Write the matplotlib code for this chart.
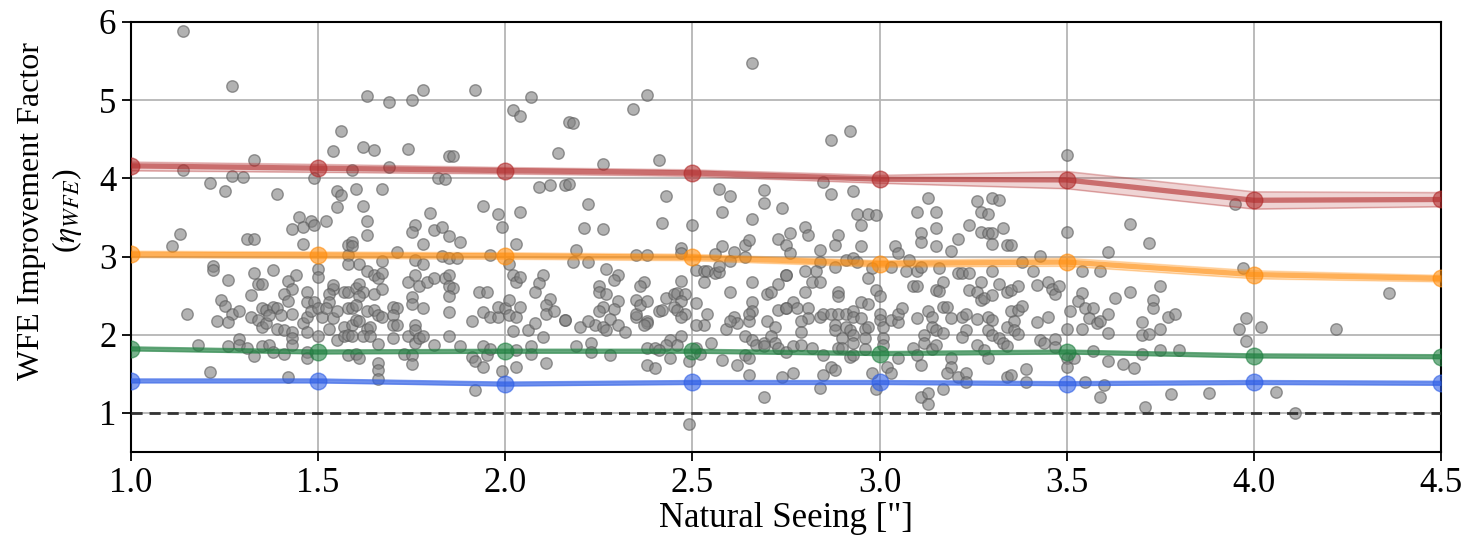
import numpy as np
import matplotlib
matplotlib.use("Agg")
import matplotlib.pyplot as plt

plt.rcParams['font.family'] = ['Liberation Serif', 'DejaVu Serif']
plt.rcParams['mathtext.fontset'] = 'stix'

# individual nights: (natural seeing ["], improvement factor)
samples = [
    (1.14, 5.88), (1.27, 5.18), (1.56, 4.61), (1.54, 4.35), (1.33, 4.24), (1.14, 4.11),
    (1.27, 4.03), (1.30, 4.02), (1.49, 4.00), (1.21, 3.94), (1.25, 3.84), (1.39, 3.80),
    (1.55, 3.84), (1.56, 3.79), (1.55, 3.63), (1.45, 3.50), (1.48, 3.45), (1.52, 3.46),
    (1.46, 3.38), (1.43, 3.35), (1.49, 3.40), (1.13, 3.29), (1.11, 3.13), (1.31, 3.22),
    (1.33, 3.23), (1.46, 3.16), (1.58, 3.15), (1.58, 3.02), (1.22, 2.88), (1.22, 2.83),
    (1.26, 2.70), (1.33, 2.79), (1.38, 2.83), (1.42, 2.69), (1.44, 2.76), (1.50, 2.84),
    (1.50, 2.74), (1.34, 2.65), (1.35, 2.65), (1.43, 2.59), (1.32, 2.51), (1.41, 2.52),
    (1.42, 2.43), (1.47, 2.55), (1.47, 2.42), (1.49, 2.42), (1.54, 2.59), (1.54, 2.64),
    (1.53, 2.52), (1.53, 2.42), (1.57, 2.55), (1.24, 2.45), (1.25, 2.37), (1.27, 2.27),
    (1.29, 2.30), (1.15, 2.26), (1.23, 2.17), (1.26, 2.16), (1.32, 2.23), (1.34, 2.19),
    (1.35, 2.34), (1.36, 2.32), (1.38, 2.36), (1.39, 2.34), (1.35, 2.10), (1.36, 2.15),
    (1.37, 2.25), (1.39, 2.08), (1.40, 2.25), (1.41, 2.06), (1.43, 2.04), (1.43, 2.27),
    (1.43, 1.96), (1.46, 2.15), (1.47, 2.23), (1.47, 2.04), (1.48, 2.30), (1.50, 2.34),
    (1.51, 2.23), (1.52, 2.34), (1.54, 2.21), (1.53, 2.08), (1.55, 2.30), (1.55, 1.93),
    (1.57, 2.10), (1.58, 2.34), (1.57, 1.98), (1.50, 1.98), (1.29, 1.95), (1.18, 1.87),
    (1.26, 1.85), (1.29, 1.87), (1.31, 1.83), (1.33, 1.73), (1.35, 1.85), (1.37, 1.87),
    (1.38, 1.78), (1.41, 1.75), (1.43, 1.87), (1.47, 1.78), (1.47, 1.70), (1.58, 1.74),
    (1.21, 1.53), (1.42, 1.46),
    (1.63, 5.05), (1.69, 4.98), (1.75, 5.00), (1.78, 5.13), (1.92, 5.13), (2.07, 5.04),
    (2.02, 4.87), (2.04, 4.80), (2.17, 4.72), (1.62, 4.40), (1.65, 4.36), (1.74, 4.38),
    (1.85, 4.28), (1.86, 4.29), (2.14, 4.33), (1.59, 4.11), (1.69, 4.14), (1.82, 4.01),
    (1.84, 3.99), (1.60, 3.86), (1.67, 3.87), (2.09, 3.89), (2.12, 3.91), (2.16, 3.92),
    (1.62, 3.65), (1.94, 3.65), (1.98, 3.54), (1.99, 3.38), (2.04, 3.57), (1.80, 3.56),
    (1.63, 3.46), (1.76, 3.40), (1.75, 3.31), (1.81, 3.34), (1.83, 3.38), (1.85, 3.26),
    (1.88, 3.19), (1.78, 3.16), (1.63, 3.28), (1.59, 3.19), (1.59, 3.13), (2.03, 3.16),
    (1.71, 3.06), (1.67, 2.94), (1.61, 2.90), (1.58, 2.90), (1.76, 2.96), (1.78, 2.91),
    (1.83, 3.01), (1.85, 2.98), (1.87, 2.98), (1.96, 3.02), (2.01, 2.91), (1.63, 2.81),
    (1.65, 2.76), (1.66, 2.72), (1.67, 2.79), (1.74, 2.68), (1.76, 2.76), (1.77, 2.62),
    (1.79, 2.68), (1.81, 2.72), (1.84, 2.72), (1.85, 2.76), (1.85, 2.62), (1.86, 2.60),
    (1.85, 2.49), (2.02, 2.77), (2.03, 2.68), (2.04, 2.74), (1.93, 2.55), (1.95, 2.55),
    (2.10, 2.76), (2.09, 2.66), (2.08, 2.55), (2.12, 2.46), (2.11, 2.38), (2.11, 2.27),
    (2.13, 2.30), (2.16, 2.19), (1.58, 2.55), (1.60, 2.60), (1.61, 2.65), (1.62, 2.55),
    (1.61, 2.49), (1.65, 2.52), (1.67, 2.59), (1.59, 2.34), (1.60, 2.38), (1.63, 2.30),
    (1.65, 2.32), (1.66, 2.25), (1.67, 2.23), (1.70, 2.36), (1.71, 2.34), (1.70, 2.25),
    (1.59, 2.13), (1.60, 2.19), (1.61, 2.17), (1.63, 2.08), (1.64, 2.10), (1.58, 2.00),
    (1.59, 1.98), (1.62, 1.98), (1.64, 1.98), (1.70, 2.13), (1.71, 2.13), (1.70, 1.96),
    (1.75, 2.48), (1.75, 2.39), (1.78, 2.34), (1.85, 2.29), (1.74, 1.98), (1.76, 2.13),
    (1.76, 2.06), (1.76, 1.89), (1.77, 1.96), (1.78, 1.98), (1.85, 1.99), (1.81, 1.87),
    (1.91, 2.18), (1.94, 2.29), (1.96, 2.23), (1.98, 2.23), (1.98, 2.36), (2.00, 2.34),
    (2.01, 2.45), (2.01, 2.25), (2.03, 2.23), (2.04, 2.35), (2.02, 2.05), (2.06, 2.06),
    (2.08, 2.15), (2.10, 1.97), (1.66, 1.88), (1.66, 1.64), (1.66, 1.55), (1.66, 1.44),
    (1.60, 1.76), (1.61, 1.70), (1.73, 1.76), (1.75, 1.74), (1.75, 1.62), (1.88, 1.85),
    (1.91, 1.72), (1.92, 1.66), (1.94, 1.59), (1.94, 1.85), (1.95, 1.74), (1.96, 1.82),
    (1.99, 1.54), (2.03, 1.59), (1.92, 1.29), (2.07, 1.75), (2.07, 1.85), (2.11, 1.64),
    (2.03, 1.81),
    (2.66, 5.47), (2.38, 5.07), (2.34, 4.89), (2.18, 4.71), (2.26, 4.19), (2.41, 4.23),
    (2.17, 3.93), (2.57, 3.87), (2.60, 3.77), (2.69, 3.85), (2.69, 3.69), (2.58, 3.57),
    (2.66, 3.48), (2.74, 3.62), (2.43, 3.77), (2.22, 3.67), (2.21, 3.37), (2.26, 3.35),
    (2.42, 3.43), (2.50, 3.40), (2.19, 3.08), (2.18, 2.93), (2.22, 2.93), (2.35, 3.02),
    (2.38, 3.02), (2.47, 3.11), (2.47, 3.04), (2.58, 3.13), (2.61, 3.06), (2.56, 3.03),
    (2.60, 2.94), (2.64, 3.00), (2.64, 3.15), (2.65, 3.21), (2.73, 3.23), (2.75, 3.15),
    (2.51, 2.83), (2.53, 2.81), (2.54, 2.81), (2.56, 2.79), (2.57, 2.80), (2.57, 2.88),
    (2.53, 2.68), (2.27, 2.84), (2.30, 2.76), (2.29, 2.70), (2.25, 2.62), (2.25, 2.55),
    (2.27, 2.52), (2.37, 2.68), (2.36, 2.62), (2.47, 2.69), (2.30, 2.43), (2.29, 2.33),
    (2.26, 2.35), (2.25, 2.30), (2.28, 2.20), (2.24, 2.13), (2.26, 2.10), (2.27, 2.06),
    (2.20, 2.10), (2.22, 2.17), (2.16, 2.19), (2.30, 2.13), (2.32, 2.03), (2.35, 2.45),
    (2.35, 2.23), (2.35, 2.26), (2.36, 2.38), (2.38, 2.43), (2.38, 2.18), (2.38, 2.15),
    (2.37, 2.12), (2.41, 2.30), (2.42, 2.32), (2.43, 2.47), (2.45, 2.52), (2.46, 2.53),
    (2.48, 2.52), (2.47, 2.43), (2.45, 2.35), (2.46, 2.32), (2.48, 2.27), (2.47, 2.23),
    (2.47, 1.99), (2.44, 1.93), (2.46, 1.87), (2.43, 1.87), (2.44, 1.70), (2.51, 2.40),
    (2.54, 2.27), (2.53, 2.13), (2.51, 2.13), (2.55, 1.89), (2.60, 2.55), (2.61, 2.23),
    (2.59, 2.08), (2.62, 2.15), (2.60, 2.18), (2.66, 2.67), (2.66, 2.42), (2.66, 2.30),
    (2.65, 2.18), (2.65, 2.27), (2.70, 2.52), (2.71, 2.55), (2.73, 2.65), (2.75, 2.77),
    (2.73, 2.32), (2.75, 2.34), (2.70, 2.17), (2.72, 2.10), (2.64, 1.98), (2.66, 1.93),
    (2.67, 1.87), (2.69, 1.89), (2.69, 1.85), (2.71, 1.98), (2.72, 1.89), (2.73, 1.83),
    (2.75, 1.78), (2.64, 1.74), (2.65, 1.70), (2.62, 1.61), (2.65, 1.49), (2.69, 1.21),
    (2.74, 1.46), (2.19, 1.85), (2.23, 1.89), (2.23, 1.78), (2.28, 1.74), (2.38, 1.83),
    (2.40, 1.83), (2.41, 1.81), (2.38, 1.61), (2.40, 1.58), (2.49, 1.66), (2.58, 1.68),
    (2.49, 0.86), (2.51, 1.83), (2.52, 1.76),
    (2.87, 4.49), (2.92, 4.61), (2.85, 3.95), (2.87, 3.80), (2.93, 3.84), (2.76, 3.30),
    (2.76, 3.04), (2.94, 3.55), (2.97, 3.55), (2.99, 3.53), (2.95, 3.41), (2.80, 3.38),
    (2.81, 3.28), (2.89, 3.28), (2.88, 3.15), (2.95, 3.13), (2.84, 3.08), (2.84, 2.93),
    (2.83, 2.82), (2.80, 2.81), (2.75, 2.76), (2.88, 2.87), (2.91, 2.96), (2.93, 2.98),
    (2.94, 2.93), (2.98, 2.85), (2.97, 2.72), (2.99, 2.57), (3.00, 2.49), (2.82, 2.67),
    (2.84, 2.67), (2.80, 2.55), (2.89, 2.55), (2.89, 2.49), (2.77, 2.42), (2.75, 2.34),
    (2.78, 2.34), (2.81, 2.34), (2.81, 2.21), (2.79, 2.17), (2.84, 2.23), (2.85, 2.27),
    (2.87, 2.27), (2.89, 2.27), (2.88, 2.13), (2.88, 2.06), (2.91, 2.27), (2.93, 2.30),
    (2.93, 2.23), (2.95, 2.21), (2.91, 2.10), (2.92, 2.06), (2.93, 2.00), (2.96, 2.08),
    (2.97, 2.10), (2.95, 2.42), (2.97, 2.39), (2.79, 2.04), (2.90, 1.96), (2.93, 1.89),
    (2.96, 1.96), (3.01, 1.96), (3.00, 2.27), (3.00, 2.19), (3.01, 2.10), (3.03, 2.19),
    (3.05, 2.16), (3.05, 2.27), (3.06, 2.34), (2.77, 1.85), (2.79, 1.87), (2.82, 1.83),
    (2.85, 1.74), (2.89, 1.83), (2.90, 1.83), (2.92, 1.72), (2.93, 1.74), (2.96, 1.82),
    (3.01, 1.87), (2.77, 1.51), (2.85, 1.48), (2.87, 1.59), (2.88, 1.55), (2.84, 1.32),
    (2.98, 1.51), (2.99, 1.31), (3.02, 1.59), (3.03, 1.51), (3.05, 1.70), (3.13, 3.75),
    (3.10, 3.57), (3.15, 3.57), (3.26, 3.71), (3.27, 3.57), (3.29, 3.54), (3.30, 3.75),
    (3.32, 3.72), (3.24, 3.40), (3.27, 3.32), (3.29, 3.30), (3.30, 3.30), (3.33, 3.36),
    (3.30, 3.16), (3.34, 3.15), (3.11, 3.30), (3.11, 3.19), (3.15, 3.36), (3.15, 3.14),
    (3.21, 3.23), (3.19, 3.07), (3.08, 2.96), (3.04, 3.13), (3.05, 3.04), (3.03, 2.87),
    (3.07, 2.81), (3.10, 2.82), (3.11, 2.87), (3.16, 2.85), (3.17, 2.68), (3.21, 2.79),
    (3.22, 2.79), (3.24, 2.79), (3.27, 2.68), (3.30, 2.82), (3.32, 2.65), (3.09, 2.63),
    (3.10, 2.63), (3.15, 2.57), (3.16, 2.56), (3.17, 2.35), (3.18, 2.35), (3.24, 2.57),
    (3.26, 2.55), (3.27, 2.45), (3.28, 2.47), (3.30, 2.51), (3.34, 2.55), (3.10, 2.21),
    (3.13, 2.30), (3.14, 2.23), (3.14, 2.10), (3.15, 2.06), (3.17, 2.02), (3.19, 2.21),
    (3.22, 2.23), (3.23, 2.27), (3.23, 2.06), (3.26, 2.20), (3.29, 2.23), (3.30, 2.19),
    (3.29, 2.06), (3.30, 2.00), (3.32, 1.96), (3.34, 2.10), (3.33, 1.89), (3.12, 2.00),
    (3.12, 1.89), (3.22, 1.97), (3.09, 1.83), (3.10, 1.74), (3.11, 1.61), (3.14, 1.82),
    (3.15, 1.87), (3.19, 1.70), (3.19, 1.59), (3.18, 1.51), (3.21, 1.46), (3.23, 1.51),
    (3.23, 1.40), (3.26, 1.87), (3.28, 1.81), (3.29, 1.70), (3.34, 1.46), (3.17, 1.31),
    (3.11, 1.21), (3.13, 1.26), (3.13, 1.11),
    (3.50, 4.30), (3.50, 3.32), (3.67, 3.42), (3.72, 3.17), (3.61, 3.06), (3.35, 3.15),
    (3.38, 2.93), (3.43, 3.01), (3.41, 2.82), (3.54, 2.81), (3.59, 2.82), (3.35, 2.57),
    (3.37, 2.63), (3.42, 2.64), (3.45, 2.67), (3.46, 2.59), (3.47, 2.52), (3.48, 2.62),
    (3.54, 2.53), (3.53, 2.43), (3.67, 2.55), (3.75, 2.63), (3.73, 2.45), (3.73, 2.34),
    (3.63, 2.47), (3.35, 2.30), (3.37, 2.32), (3.38, 2.37), (3.36, 2.17), (3.36, 2.06),
    (3.37, 2.01), (3.42, 2.16), (3.45, 2.23), (3.51, 2.30), (3.55, 2.34), (3.57, 2.34),
    (3.56, 2.21), (3.58, 2.15), (3.59, 2.18), (3.61, 2.27), (3.61, 2.02), (3.50, 2.07),
    (3.54, 2.07), (3.70, 2.16), (3.70, 2.00), (3.72, 2.01), (3.75, 2.07), (3.77, 2.23),
    (3.79, 2.26), (3.34, 1.85), (3.43, 1.93), (3.44, 1.90), (3.47, 1.95), (3.47, 1.84),
    (3.50, 1.70), (3.50, 1.59), (3.52, 1.70), (3.57, 1.79), (3.61, 1.66), (3.65, 1.62),
    (3.68, 1.58), (3.70, 1.75), (3.75, 1.81), (3.80, 1.81), (3.35, 1.49), (3.39, 1.56),
    (3.39, 1.40), (3.55, 1.39), (3.60, 1.36), (3.59, 1.20), (3.71, 1.08), (3.78, 1.24),
    (3.88, 1.25),
    (3.95, 3.67), (3.97, 2.85), (4.36, 2.54), (3.98, 2.22), (3.96, 2.08), (4.02, 2.10),
    (3.98, 1.92), (4.22, 2.07), (4.06, 1.27), (4.11, 1.00),
]
sample_seeing, sample_eta = zip(*samples)

# binned means with their uncertainty bands
seeing_bins = [1.0, 1.5, 2.0, 2.5, 3.0, 3.5, 4.0, 4.5]

red_mean = [4.16, 4.13, 4.10, 4.07, 3.99, 3.98, 3.72, 3.73]
red_lo = [4.10, 4.08, 4.06, 4.03, 3.94, 3.87, 3.61, 3.64]
red_hi = [4.21, 4.18, 4.14, 4.11, 4.04, 4.09, 3.83, 3.82]

orange_mean = [3.03, 3.02, 3.01, 2.99, 2.91, 2.93, 2.77, 2.72]
orange_lo = [2.99, 2.98, 2.97, 2.95, 2.87, 2.88, 2.72, 2.68]
orange_hi = [3.07, 3.06, 3.05, 3.03, 2.95, 2.98, 2.82, 2.76]

green_mean = [1.82, 1.78, 1.79, 1.79, 1.76, 1.78, 1.73, 1.72]
green_lo = [1.80, 1.76, 1.77, 1.77, 1.74, 1.76, 1.71, 1.70]
green_hi = [1.84, 1.80, 1.81, 1.81, 1.78, 1.80, 1.75, 1.74]

blue_mean = [1.41, 1.41, 1.37, 1.39, 1.39, 1.375, 1.39, 1.38]
blue_lo = [1.39, 1.39, 1.35, 1.37, 1.37, 1.355, 1.37, 1.36]
blue_hi = [1.43, 1.43, 1.39, 1.41, 1.41, 1.395, 1.41, 1.40]

series = [
    (red_mean, red_lo, red_hi, '#b22b2b'),
    (orange_mean, orange_lo, orange_hi, '#ff8c0a'),
    (green_mean, green_lo, green_hi, '#1f8040'),
    (blue_mean, blue_lo, blue_hi, '#2f5fe6'),
]

fig = plt.figure(figsize=(14.68, 5.44), dpi=100)
ax = fig.add_axes([0.0892, 0.169, 0.8924, 0.7906])

ax.scatter(sample_seeing, sample_eta, s=68, color='#808080', alpha=0.6,
           edgecolor='#5a5a5a', linewidth=1.0, zorder=2)

for mean, lo, hi, col in series:
    ax.fill_between(seeing_bins, lo, hi, color=col, alpha=0.2, zorder=3)
    ax.plot(seeing_bins, lo, color=col, alpha=0.25, lw=1.0, zorder=3)
    ax.plot(seeing_bins, hi, color=col, alpha=0.25, lw=1.0, zorder=3)
    ax.plot(seeing_bins, mean, color=col, alpha=0.6, lw=3.8, marker='o',
            markersize=12, zorder=4)

ax.axhline(1.0, color='#333333', lw=2.0, ls=(0, (4, 2.5)), zorder=3)

ax.set_xlim(1.0, 4.5)
ax.set_ylim(0.5, 6.0)
ax.set_xticks(seeing_bins)
ax.set_xticklabels([f'{v:.1f}' for v in seeing_bins])
ax.set_yticks([1, 2, 3, 4, 5, 6])
ax.grid(True, color='#b5b5b5', lw=1.3, zorder=0)
ax.set_axisbelow(True)

ax.tick_params(labelsize=25, width=1.3, length=6.5, pad=4)
for sp in ax.spines.values():
    sp.set_linewidth(1.5)

ax.set_xlabel('Natural Seeing ["]', fontsize=25, labelpad=2)
ax.set_ylabel('WFE Improvement Factor\n($\\eta_{WFE}$)', fontsize=23,
              linespacing=1.15)
ax.yaxis.set_label_coords(-0.036, 0.56)

fig.savefig('out.png', dpi=100)
